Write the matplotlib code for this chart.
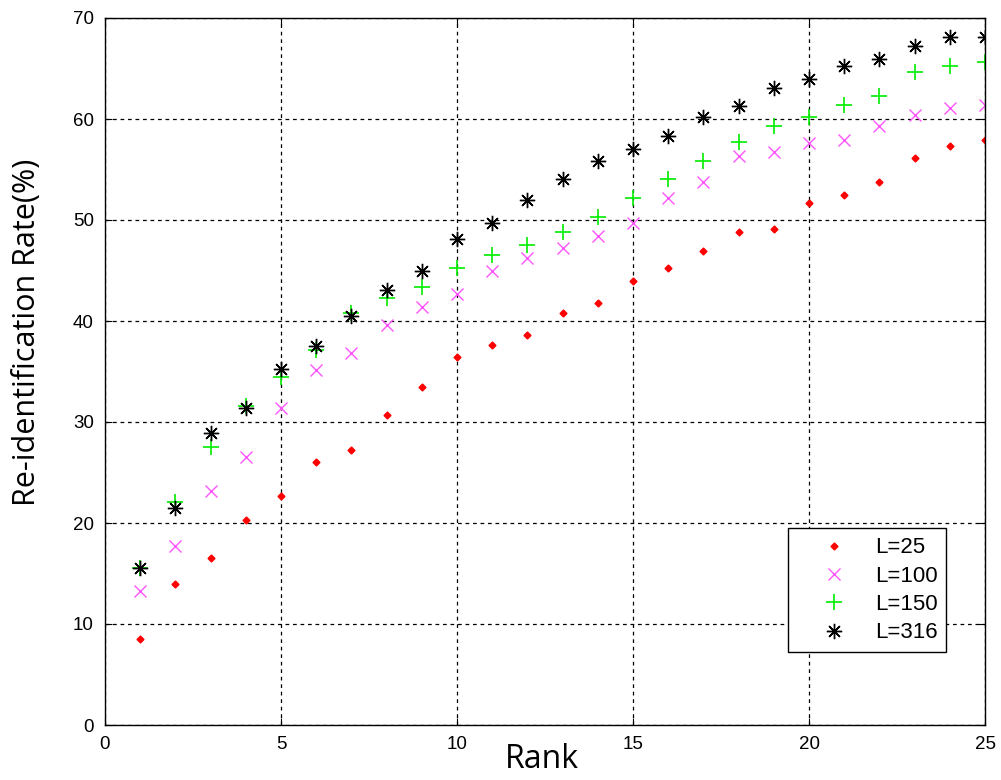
import matplotlib
matplotlib.use("Agg")
import matplotlib.pyplot as plt
import numpy as np

plt.rcParams["font.family"] = ["Liberation Sans", "DejaVu Sans"]

rank = np.arange(1, 26)

rate_l25 = [8.5, 14.0, 16.5, 20.3, 22.7, 26.0, 27.2, 30.7, 33.5, 36.4,
            37.6, 38.6, 40.8, 41.8, 44.0, 45.2, 46.9, 48.8, 49.1, 51.7,
            52.5, 53.8, 56.1, 57.3, 57.9]
rate_l100 = [13.3, 17.7, 23.2, 26.5, 31.4, 35.1, 36.8, 39.6, 41.4, 42.7,
             45.0, 46.2, 47.2, 48.4, 49.7, 52.2, 53.8, 56.3, 56.7, 57.6,
             57.9, 59.3, 60.4, 61.1, 61.4]
rate_l150 = [15.5, 22.1, 27.5, 31.6, 34.5, 37.1, 40.8, 42.3, 43.4, 45.2,
             46.5, 47.5, 48.8, 50.3, 52.2, 54.1, 55.8, 57.7, 59.3, 60.2,
             61.4, 62.3, 64.7, 65.2, 65.6]
rate_l316 = [15.5, 21.5, 28.9, 31.4, 35.2, 37.5, 40.5, 43.1, 45.0, 48.1,
             49.7, 52.0, 54.1, 55.8, 57.0, 58.3, 60.2, 61.3, 63.1, 64.0,
             65.2, 65.9, 67.2, 68.1, 68.1]

fig = plt.figure(figsize=(10.01, 7.80), dpi=100)
ax = fig.add_axes([105 / 1001, 55 / 780, 880 / 1001, 707 / 780])

ax.plot(rank, rate_l25, linestyle="none", marker="D", markersize=3.5,
        color="#ff0000", label="L=25")
ax.plot(rank, rate_l100, linestyle="none", marker="x", markersize=9,
        markeredgewidth=1.0, color="#ff55ff", label="L=100")
ax.plot(rank, rate_l150, linestyle="none", marker="+", markersize=12,
        markeredgewidth=1.2, color="#00ee00", label="L=150")
ax.plot(rank, rate_l316, linestyle="none", marker=(8, 2, 0), markersize=11,
        markeredgewidth=1.0, color="black", label="L=316")

ax.set_xlim(0, 25)
ax.set_ylim(0, 70)
ax.set_xticks(range(0, 26, 5))
ax.set_yticks(range(0, 71, 10))
ax.tick_params(direction="in", top=True, right=True, labelsize=13.5,
               length=5, pad=8)
ax.grid(True, color="black", linestyle=(0, (3, 3)), linewidth=0.9)
for s in ax.spines.values():
    s.set_linewidth(1.0)

label_font = ["Open Sans", "Liberation Sans", "DejaVu Sans"]
ax.set_xlabel("Rank", fontsize=23, family=label_font)
ax.set_ylabel("Re-identification Rate(%)", fontsize=22, family=label_font)
ax.xaxis.set_label_coords(0.497, -0.026)
ax.yaxis.set_label_coords(-0.072, 0.555)

leg = ax.legend(loc="lower right", bbox_to_anchor=(0.956, 0.103),
                fontsize=16, fancybox=False, framealpha=1,
                edgecolor="black", handlelength=3.3, handletextpad=0.2,
                labelspacing=0.33, borderpad=0.4, borderaxespad=0)
leg.get_frame().set_linewidth(1.0)

fig.savefig("out.png", dpi=100)
